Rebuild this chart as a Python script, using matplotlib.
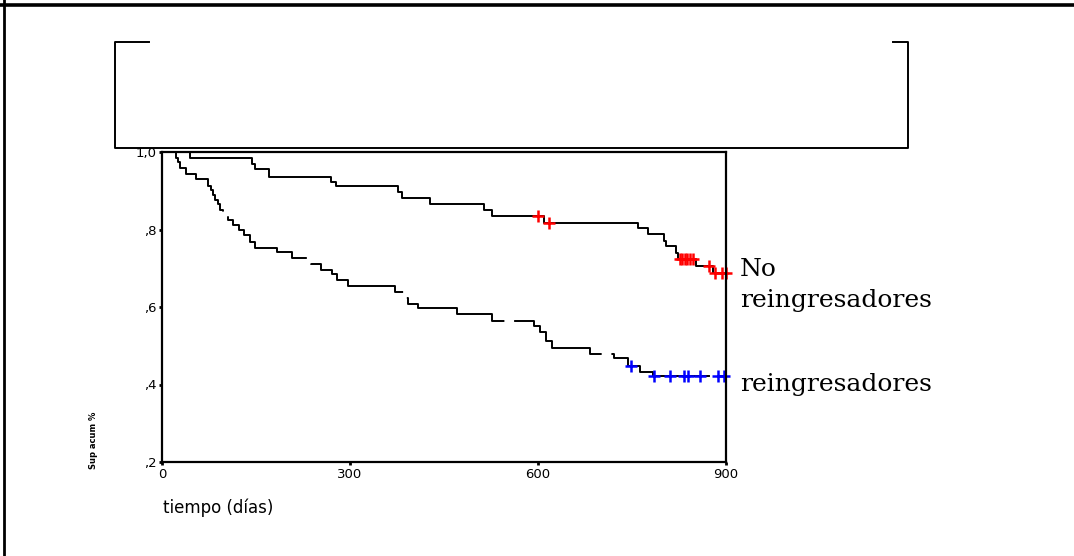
import numpy as np
import matplotlib
matplotlib.use('Agg')
import matplotlib.pyplot as plt
from matplotlib.lines import Line2D

# Kaplan-Meier steps (days, cumulative survival)
no_t = [0, 44, 144, 148, 170, 269, 278, 377, 383, 428, 514, 527, 609,
        760, 776, 801, 805, 820, 824, 852, 879]
no_s = [1.0, 0.984, 0.970, 0.955, 0.936, 0.922, 0.911, 0.896, 0.882, 0.865,
        0.850, 0.835, 0.818, 0.803, 0.788, 0.771, 0.757, 0.740, 0.723,
        0.705, 0.689]
no_cens = [600, 618, 826, 830, 834, 838, 842, 847, 873, 883, 893, 900]

re_t = [0, 22, 25, 28, 38, 54, 73, 78, 82, 85, 89, 93, 97, 105, 114, 123,
        131, 140, 148, 184, 207, 237, 253, 272, 279, 297, 372, 390, 393,
        409, 470, 527, 593, 603, 612, 622, 683, 722, 744, 763, 783]
re_s = [1.0, 0.985, 0.975, 0.960, 0.942, 0.930, 0.913, 0.902, 0.889, 0.876,
        0.865, 0.850, 0.837, 0.825, 0.812, 0.799, 0.786, 0.769, 0.753,
        0.743, 0.726, 0.711, 0.695, 0.684, 0.670, 0.654, 0.638, 0.622,
        0.608, 0.597, 0.581, 0.565, 0.551, 0.536, 0.513, 0.494, 0.479,
        0.468, 0.448, 0.433, 0.421]
re_cens = [749, 785, 811, 833, 840, 858, 888, 897]

t_end = 900
yticks = [0.2, 0.4, 0.6, 0.8, 1.0]
ytick_labels = [',2', ',4', ',6', ',8', '1,0']
xticks = [0, 300, 600, 900]


def surv_at(times, surv, pts):
    idx = np.searchsorted(times, pts, side='right') - 1
    return np.array(surv)[idx]


W, H = 1074, 556
fig = plt.figure(figsize=(W / 100, H / 100), dpi=100)
fig.patch.set_facecolor('white')


def fx(x):
    return x / W


def fy(y):
    return 1 - y / H


# outer frame (top and left) and the empty box above the plot
fig.add_artist(Line2D([0, 1], [fy(5), fy(5)], color='black', lw=2.6))
fig.add_artist(Line2D([fx(4), fx(4)], [0, 1], color='black', lw=2.0))
box_kw = dict(color='black', lw=1.4)
fig.add_artist(Line2D([fx(149), fx(115), fx(115), fx(908), fx(908), fx(893)],
                      [fy(42), fy(42), fy(148), fy(148), fy(42), fy(42)], **box_kw))

ax = fig.add_axes([fx(162), fy(462), fx(726) - fx(162), fy(152) - fy(462)])

x1 = no_t + [t_end]
y1 = no_s + [no_s[-1]]
ax.step(x1, y1, where='post', color='black', lw=1.4)
ax.plot(no_cens, surv_at(no_t, no_s, no_cens), '+', color='red',
        ms=8, mew=1.8, clip_on=False)

x2 = re_t + [t_end]
y2 = re_s + [re_s[-1]]
ax.step(x2, y2, where='post', color='black', lw=1.4, dashes=(62, 5))
ax.plot(re_cens, surv_at(re_t, re_s, re_cens), '+', color='blue',
        ms=8, mew=1.8, clip_on=False)

ax.set_xlim(0, t_end)
ax.set_ylim(0.2, 1.0)
ax.set_xticks(xticks)
ax.set_xticklabels([str(v) for v in xticks])
ax.set_yticks(yticks)
ax.set_yticklabels(ytick_labels)
for s in ax.spines.values():
    s.set_linewidth(1.6)
ax.tick_params(direction='out', length=2, width=2, labelsize=9.5, pad=2)
for lab in ax.get_xticklabels() + ax.get_yticklabels():
    lab.set_family('DejaVu Sans')

fig.text(fx(163), fy(508), 'tiempo (días)', fontsize=12,
         family='DejaVu Sans', ha='left', va='center')
fig.text(fx(93), fy(440), 'Sup acum %', fontsize=6, family='DejaVu Sans',
         rotation=90, ha='center', va='center', fontweight='bold')

fig.text(fx(740), fy(270), 'No', fontsize=18, family='DejaVu Serif',
         ha='left', va='center')
fig.text(fx(740), fy(300), 'reingresadores', fontsize=18, family='DejaVu Serif',
         ha='left', va='center')
fig.text(fx(740), fy(385), 'reingresadores', fontsize=18, family='DejaVu Serif',
         ha='left', va='center')

fig.savefig('out.png', dpi=100)
